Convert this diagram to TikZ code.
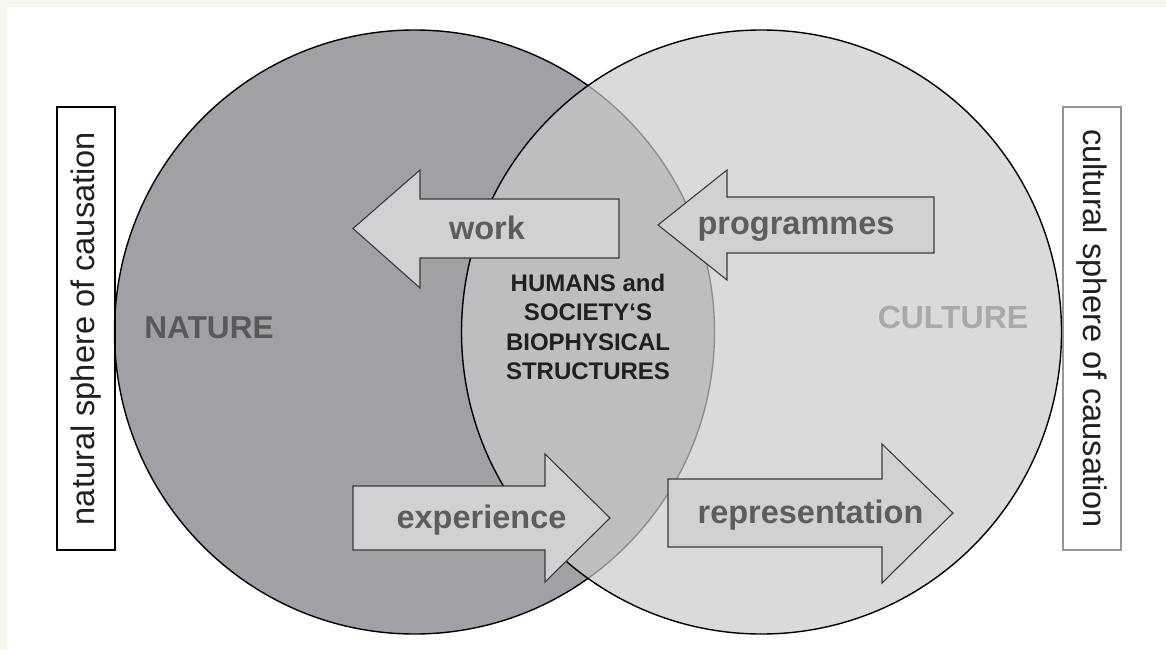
\documentclass[tikz,border=0pt]{standalone}
\usepackage{fontspec}
\setmainfont{Liberation Sans}
\usetikzlibrary{shapes.geometric}
\definecolor{natgray}{RGB}{160,161,165}
\definecolor{culgray}{RGB}{203,203,206}
\definecolor{arrgray}{RGB}{208,209,211}
\definecolor{arredge}{RGB}{58,58,60}
\definecolor{labgray}{RGB}{92,93,96}
\definecolor{natlab}{RGB}{88,89,91}
\definecolor{cullab}{RGB}{167,169,172}
\definecolor{ink}{RGB}{35,31,32}
\definecolor{boxgray}{RGB}{150,150,152}
\definecolor{page}{RGB}{245,247,236}
\tikzset{
  sphere/.style={ellipse, draw=black, line width=1.4pt, minimum width=600pt, minimum height=604pt, inner sep=0pt},
  bigarrow/.style={fill=arrgray, draw=arredge, line width=1.1pt, line join=miter},
  arrlabel/.style={anchor=base, text=labgray, font=\bfseries\fontsize{32.5}{39}\selectfont},
  sidebox/.style={draw, line width=1.4pt, minimum width=443pt, minimum height=58pt, inner sep=0pt, text=ink, font=\fontsize{32.6}{39}\selectfont},
}
\begin{document}
\begin{tikzpicture}[x=1pt,y=-1pt]
\useasboundingbox (0,0) rectangle (1166,650);
\fill[page] (0,0) rectangle (1166,650);
\fill[white] (7,7) rectangle (1166,650);
% the two spheres
\node[sphere, fill=natgray] (nature) at (414.5,332){};
\node[sphere, fill=culgray, fill opacity=0.7] (culture) at (761.5,332){};
\node[anchor=base, text=natlab, font=\bfseries\fontsize{31.6}{38}\selectfont] (natlbl) at (209,338){NATURE};
\node[anchor=base, text=cullab, font=\bfseries\fontsize{32}{38}\selectfont] (cullbl) at (953,328){CULTURE};
\node[align=center, text=ink, font=\bfseries\fontsize{24}{29.3}\selectfont] (humans) at (588,327){HUMANS and\\SOCIETY‘S\\BIOPHYSICAL\\STRUCTURES};
% arrows
\draw[bigarrow] (619,199) -- (420,199) -- (420,170) -- (353,228.5) -- (420,288) -- (420,258) -- (619,258) -- cycle;
\draw[bigarrow] (934,197) -- (727,197) -- (727,170) -- (658,225) -- (727,280) -- (727,253) -- (934,253) -- cycle;
\draw[bigarrow] (353,486) -- (545,486) -- (545,454) -- (610,518) -- (545,582) -- (545,550) -- (353,550) -- cycle;
\draw[bigarrow] (668,479) -- (882,479) -- (882,444) -- (953,513) -- (882,583) -- (882,547) -- (668,547) -- cycle;
\node[arrlabel] (work) at (487,239){work};
\node[arrlabel] (progs) at (796,234){programmes};
\node[arrlabel] (exper) at (481.5,528){experience};
\node[arrlabel] (repr) at (810.5,523){representation};
% side boxes
\node[sidebox, rotate=90] (natbox) at (86,328.5){natural sphere of causation};
\node[sidebox, rotate=-90, draw=boxgray] (culbox) at (1092,328.5){cultural sphere of causation};
\end{tikzpicture}
\end{document}
